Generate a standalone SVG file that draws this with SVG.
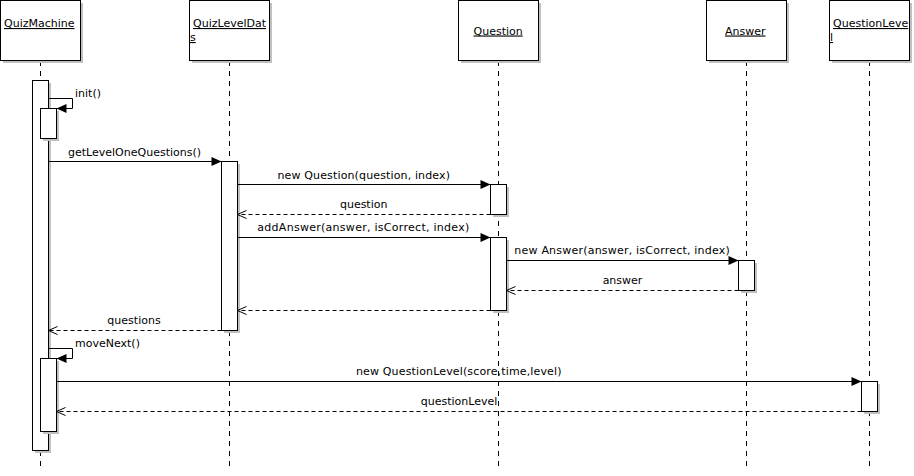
<svg xmlns="http://www.w3.org/2000/svg" width="914" height="476" viewBox="0 0 914 476">
<style>
text{font-family:"DejaVu Sans","Verdana",sans-serif;font-size:11px;fill:#000}
.hd{text-decoration:underline}
.box{fill:#fff;stroke:#000;stroke-width:1}
.sh{fill:#c0c0c0}
.life{stroke:#000;stroke-width:1;stroke-dasharray:5,5;fill:none}
.msg{stroke:#000;stroke-width:1;fill:none}
.ret{stroke:#000;stroke-width:1;fill:none;stroke-dasharray:4,3}
.mid{text-anchor:middle}
</style>
<defs>
<marker id="fa" markerUnits="userSpaceOnUse" markerWidth="11" markerHeight="10" refX="10" refY="4.5" orient="auto" overflow="visible">
<path d="M0,0 L10,4.5 L0,9 z" fill="#000"/>
</marker>
<marker id="oa" markerUnits="userSpaceOnUse" markerWidth="11" markerHeight="10" refX="9" refY="4" orient="auto" overflow="visible">
<path d="M0,0 L9,4 L0,8" fill="none" stroke="#000" stroke-width="1"/>
</marker>
</defs>
<g id="lifelines">
<line class="life" x1="40.5" y1="61" x2="40.5" y2="471"/>
<line class="life" x1="229.5" y1="61" x2="229.5" y2="471"/>
<line class="life" x1="498.5" y1="61" x2="498.5" y2="471"/>
<line class="life" x1="746.5" y1="61" x2="746.5" y2="471"/>
<line class="life" x1="869.5" y1="61" x2="869.5" y2="471"/>
</g>
<g id="QuizMachine">
<rect class="sh" x="3" y="3" width="80" height="60"/>
<rect class="box" x="0.5" y="0.5" width="80" height="60"/>
<text class="hd" x="4" y="27">QuizMachine</text>
</g>
<g id="QuizLevelDats">
<rect class="sh" x="192" y="3" width="80" height="60"/>
<rect class="box" x="189.5" y="0.5" width="80" height="60"/>
<text class="hd" x="193" y="27">QuizLevelDat</text>
<text class="hd" x="190" y="41">s</text>
</g>
<g id="Question">
<rect class="sh" x="461" y="3" width="80" height="60"/>
<rect class="box" x="458.5" y="0.5" width="80" height="60"/>
<text class="hd" x="473.5" y="34.5">Question</text>
</g>
<g id="Answer">
<rect class="sh" x="709" y="3" width="80" height="60"/>
<rect class="box" x="706.5" y="0.5" width="80" height="60"/>
<text class="hd" x="725" y="34.5">Answer</text>
</g>
<g id="QuestionLevel">
<rect class="sh" x="832" y="3" width="80" height="60"/>
<rect class="box" x="829.5" y="0.5" width="80" height="60"/>
<text class="hd" x="833" y="27">QuestionLeve</text>
<text class="hd" x="830" y="41">l</text>
</g>
<g id="activations">
<rect class="sh" x="35" y="83" width="16" height="370"/>
<rect class="box" x="32.5" y="80.5" width="16" height="370"/>
<rect class="sh" x="43" y="111" width="16" height="30"/>
<rect class="box" x="40.5" y="108.5" width="16" height="30"/>
<rect class="sh" x="224" y="164" width="16" height="169"/>
<rect class="box" x="221.5" y="161.5" width="16" height="169"/>
<rect class="sh" x="493" y="187" width="16" height="30"/>
<rect class="box" x="490.5" y="184.5" width="16" height="30"/>
<rect class="sh" x="493" y="240" width="16" height="73"/>
<rect class="box" x="490.5" y="237.5" width="16" height="73"/>
<rect class="sh" x="741" y="263" width="16" height="30"/>
<rect class="box" x="738.5" y="260.5" width="16" height="30"/>
<rect class="sh" x="43" y="361" width="16" height="73"/>
<rect class="box" x="40.5" y="358.5" width="16" height="73"/>
<rect class="sh" x="864" y="384" width="16" height="30"/>
<rect class="box" x="861.5" y="381.5" width="16" height="30"/>
</g>
<g id="connectors">
<path class="msg" d="M48.5,98.5 H72.5 V108.5 H56.5" marker-end="url(#fa)"/>
<line class="msg" x1="48.5" y1="161.5" x2="221.5" y2="161.5" marker-end="url(#fa)"/>
<line class="msg" x1="237.5" y1="184.5" x2="490.5" y2="184.5" marker-end="url(#fa)"/>
<line class="ret" x1="490.5" y1="214.5" x2="237.5" y2="214.5" marker-end="url(#oa)"/>
<line class="msg" x1="237.5" y1="237.5" x2="490.5" y2="237.5" marker-end="url(#fa)"/>
<line class="msg" x1="506.5" y1="260.5" x2="738.5" y2="260.5" marker-end="url(#fa)"/>
<line class="ret" x1="738.5" y1="290.5" x2="506.5" y2="290.5" marker-end="url(#oa)"/>
<line class="ret" x1="490.5" y1="310.5" x2="237.5" y2="310.5" marker-end="url(#oa)"/>
<line class="ret" x1="221.5" y1="330.5" x2="48.5" y2="330.5" marker-end="url(#oa)"/>
<path class="msg" d="M48.5,348.5 H72.5 V358.5 H56.5" marker-end="url(#fa)"/>
<line class="msg" x1="56.5" y1="381.5" x2="861.5" y2="381.5" marker-end="url(#fa)"/>
<line class="ret" x1="861.5" y1="411.5" x2="56.5" y2="411.5" marker-end="url(#oa)"/>
</g>
<g id="labels">
<text x="75" y="97">init()</text>
<text x="68" y="156">getLevelOneQuestions()</text>
<text x="277.5" y="179" textLength="172.5" lengthAdjust="spacing">new Question(question, index)</text>
<text class="mid" x="363.7" y="208">question</text>
<text x="257.3" y="231" textLength="212" lengthAdjust="spacing">addAnswer(answer, isCorrect, index)</text>
<text x="514.3" y="254" textLength="215.5" lengthAdjust="spacing">new Answer(answer, isCorrect, index)</text>
<text class="mid" x="622.5" y="284">answer</text>
<text class="mid" x="134" y="324">questions</text>
<text x="75" y="347">moveNext()</text>
<text x="356" y="375" textLength="205.5" lengthAdjust="spacing">new QuestionLevel(score,time,level)</text>
<text class="mid" x="459" y="405">questionLevel</text>
</g>
</svg>
